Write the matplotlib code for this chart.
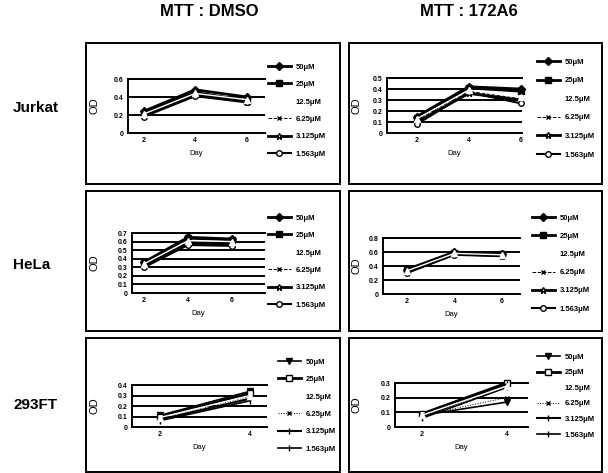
import numpy as np
import matplotlib
matplotlib.use('Agg')
import matplotlib.pyplot as plt
from matplotlib.patches import Rectangle

# 字體設定: 粗體 Arial 類
plt.rcParams['font.family'] = ['Liberation Sans', 'DejaVu Sans']
plt.rcParams['font.weight'] = 'bold'

# 資料
conc_labels = ['50μM', '25μM', '12.5μM', '6.25μM', '3.125μM', '1.563μM']
days_long = [2, 4, 6]
days_short = [2, 4]
col_titles = ['MTT : DMSO', 'MTT : 172A6']
row_titles = ['Jurkat', 'HeLa', '293FT']

jurkat_dmso = [[0.24, 0.48, 0.40], [0.22, 0.45, 0.36], [0.21, 0.44, 0.37],
               [0.20, 0.43, 0.36], [0.19, 0.42, 0.35], [0.18, 0.41, 0.34]]
jurkat_172a6 = [[0.15, 0.42, 0.40], [0.14, 0.41, 0.38], [0.13, 0.39, 0.33],
                [0.12, 0.38, 0.31], [0.10, 0.36, 0.30], [0.08, 0.37, 0.27]]
hela_dmso = [[0.36, 0.65, 0.63], [0.35, 0.64, 0.62], [0.34, 0.61, 0.60],
             [0.33, 0.60, 0.59], [0.32, 0.58, 0.57], [0.30, 0.56, 0.55]]
hela_172a6 = [[0.35, 0.60, 0.57], [0.34, 0.59, 0.57], [0.33, 0.58, 0.56],
              [0.32, 0.58, 0.55], [0.31, 0.57, 0.55], [0.30, 0.56, 0.54]]
fit_dmso = [[0.11, 0.34], [0.10, 0.32], [0.09, 0.30],
            [0.08, 0.29], [0.07, 0.27], [0.06, 0.25]]
fit_172a6 = [[0.08, 0.17], [0.09, 0.30], [0.08, 0.28],
             [0.08, 0.20], [0.07, 0.29], [0.06, 0.27]]

panel_data = [[jurkat_dmso, jurkat_172a6],
              [hela_dmso, hela_172a6],
              [fit_dmso, fit_172a6]]
panel_days = [days_long, days_long, days_short]
y_tops = [[0.6, 0.5], [0.7, 0.8], [0.4, 0.3]]
y_steps = [[0.2, 0.1], [0.1, 0.2], [0.1, 0.1]]

# 版面 (像素, 從上往下)
W, H = 608, 473
boxes = [[(86, 43, 340, 184), (349, 43, 602, 184)],
         [(86, 191, 340, 331), (349, 191, 602, 331)],
         [(86, 338, 340, 472), (349, 338, 602, 472)]]
plot_rects = [[(128, 79, 265, 133), (387, 78, 522, 133)],
              [(132, 233, 265, 293), (383, 238, 520, 294)],
              [(132, 385, 267, 427), (395, 383, 528, 427)]]
xlims = [[(1.4, 6.7), (0.85, 6.05)],
         [(1.45, 7.5), (1.0, 6.75)],
         [(1.38, 4.38), (1.36, 4.5)]]
legend_pos = [[(268, 110.5, 18.6), (537, 108.5, 19.8)],
              [(268, 261.5, 18.6), (532, 263.5, 19.4)],
              [(278, 405.5, 18.6), (537, 396, 16.8)]]

styles_top = [dict(marker='D', color='k', lw=2, ms=4, mfc='k', mec='k'),
              dict(marker='s', color='k', lw=2, ms=5, mfc='k', mec='k'),
              dict(marker='^', color='white', lw=1, ms=4, mfc='white', mec='white'),
              dict(marker='x', color='k', lw=0.7, ls='--', ms=3, mec='k'),
              dict(marker='*', color='k', lw=2, ms=5, mfc='white', mec='k'),
              dict(marker='o', color='k', lw=1.5, ms=4, mfc='white', mec='k')]
styles_bot = [dict(marker='v', color='k', lw=1.2, ms=4, mfc='k', mec='k'),
              dict(marker='s', color='k', lw=2, ms=4, mfc='white', mec='k'),
              dict(marker='^', color='white', lw=1, ms=4, mfc='white', mec='white'),
              dict(marker='x', color='k', lw=0.7, ls=':', ms=3, mec='k'),
              dict(marker='|', color='k', lw=1.5, ms=5, mec='k'),
              dict(marker='|', color='k', lw=1.2, ms=5, mec='k')]
draw_order = [0, 1, 3, 4, 5, 2]

fig = plt.figure(figsize=(W / 100, H / 100), dpi=100)


def fx(px):
    return px / W


def fy(py):
    return 1 - py / H


fs = 5.5
for r in range(3):
    for c in range(2):
        x0, y0, x1, y1 = boxes[r][c]
        fig.patches.append(Rectangle((fx(x0), fy(y1)), fx(x1 - x0), (y1 - y0) / H,
                                     transform=fig.transFigure, fill=False,
                                     ec='k', lw=1.4))
        l, t, rr, b = plot_rects[r][c]
        ax = fig.add_axes([fx(l), fy(b), fx(rr - l), (b - t) / H])
        styles = styles_bot if r == 2 else styles_top
        days = panel_days[r]
        data = panel_data[r][c]
        handles = [None] * 6
        for i in draw_order:
            h, = ax.plot(days, data[i], label=conc_labels[i], zorder=3 + (i == 2),
                         clip_on=False, **styles[i])
            handles[i] = h
        ax.set_xlim(*xlims[r][c])
        ax.set_ylim(0, y_tops[r][c])
        ticks = np.round(np.arange(0, y_tops[r][c] + 1e-9, y_steps[r][c]), 2)
        ax.set_yticks(ticks)
        ax.set_yticklabels(['0'] + ['%g' % v for v in ticks[1:]])
        ax.set_xticks(days)
        ax.tick_params(labelsize=fs - 0.5, length=0, pad=3)
        ax.yaxis.grid(True, color='k', lw=1.4)
        ax.set_axisbelow(True)
        for s in ['left', 'bottom', 'top']:
            ax.spines[s].set_linewidth(1.4)
        ax.spines['right'].set_visible(False)
        ax.set_xlabel('Day', fontsize=fs, labelpad=4)
        ax.set_ylabel('OD', fontsize=8, labelpad=2)
        ax.yaxis.set_label_coords((x0 + 13 - l) / (rr - l), 0.5)
        lx, ly, sp = legend_pos[r][c]
        ls = (sp - 8.6) / (fs * 100 / 72)
        ax.legend(handles, conc_labels, loc='center left',
                  bbox_to_anchor=(fx(lx), fy(ly)), bbox_transform=fig.transFigure,
                  frameon=False, fontsize=fs, borderpad=0, borderaxespad=0,
                  handlelength=3.0, handletextpad=0.6, labelspacing=ls)

for c in range(2):
    fig.text(fx([209, 469][c]), fy(12), col_titles[c], ha='center', va='center',
             fontsize=12, fontweight='bold')
for r in range(3):
    fig.text(fx(13), fy([108, 265, 405][r]), row_titles[r], ha='left', va='center',
             fontsize=11, fontweight='bold')

fig.savefig('out.png', dpi=100)
